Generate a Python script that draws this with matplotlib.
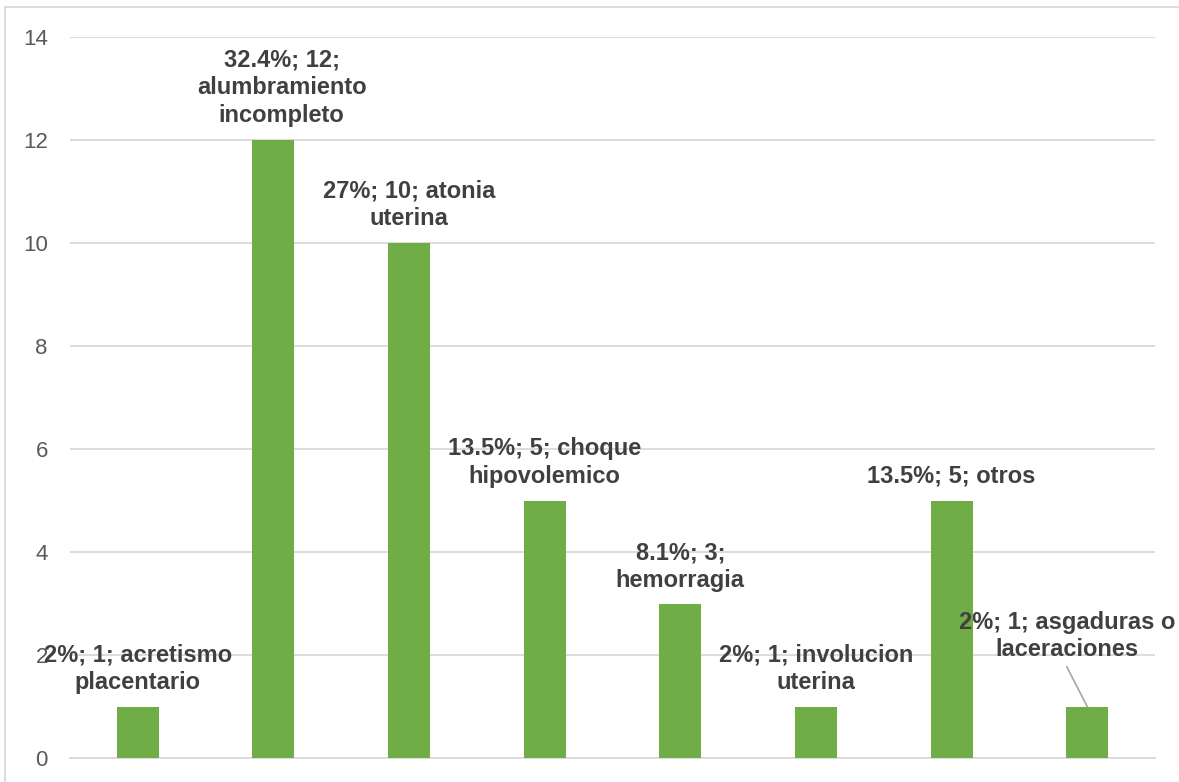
import textwrap
import matplotlib
matplotlib.use("Agg")
import matplotlib.pyplot as plt
from matplotlib.patches import Rectangle

# Causes of postpartum haemorrhage: count and share of cases
categories = [
    "acretismo placentario",
    "alumbramiento incompleto",
    "atonia uterina",
    "choque hipovolemico",
    "hemorragia",
    "involucion uterina",
    "otros",
    "asgaduras o laceraciones",
]
counts = [1, 12, 10, 5, 3, 1, 5, 1]
percents = ["2%", "32.4%", "27%", "13.5%", "8.1%", "2%", "13.5%", "2%"]
y_ticks = [0, 2, 4, 6, 8, 10, 12, 14]

# label placement: (x shift from bar centre, height above bar top) in data units
label_shift = [(0.0, 0.74), (0.06, 1.01), (0.0, 0.74), (0.0, 0.74),
               (0.0, 0.72), (0.0, 0.74), (0.0, 0.47), (-0.15, 1.37)]

BAR_COLOR = "#70AD47"
GRID_COLOR = "#D9D9D9"
TEXT_COLOR = "#404040"
TICK_COLOR = "#595959"

plt.rcParams["font.family"] = ["Liberation Sans", "DejaVu Sans"]

W, H = 1179, 782
fig = plt.figure(figsize=(W / 100, H / 100), dpi=100)
ax = fig.add_axes([70 / W, 1 - 758 / H, (1155 - 70) / W, (758 - 37) / H])

x = list(range(len(categories)))
ax.bar(x, counts, width=0.31, color=BAR_COLOR, zorder=3)

ax.set_xlim(-0.5, len(categories) - 0.5)
ax.set_ylim(0, 14)
ax.set_yticks(y_ticks)
ax.set_yticklabels([str(t) for t in y_ticks])
ax.set_xticks([])
ax.tick_params(axis="y", length=0, pad=16, labelsize=16, labelcolor=TICK_COLOR)
ax.yaxis.grid(True, color=GRID_COLOR, linewidth=1.3, zorder=0)
ax.set_axisbelow(True)
for side in ("top", "right", "left"):
    ax.spines[side].set_visible(False)
ax.spines["bottom"].set_color(GRID_COLOR)
ax.spines["bottom"].set_linewidth(1.3)

for i, (cat, n, pct) in enumerate(zip(categories, counts, percents)):
    dx, dy = label_shift[i]
    text = textwrap.fill(f"{pct}; {n}; {cat}", width=18)
    tx, ty = i + dx, n + dy
    ax.text(tx, ty, text, ha="center", va="center", fontsize=17,
            fontweight="bold", color=TEXT_COLOR, linespacing=1.25, zorder=5)
    if i == len(categories) - 1:
        # leader line from the displaced label down to its bar
        ax.plot([tx, i], [n + 0.77, n], color="#A6A6A6", linewidth=1.2,
                zorder=4, clip_on=False)

# chart frame
fig.patches.append(Rectangle((5 / W, -0.1), 1.2, 1 - 7 / H + 0.1,
                             transform=fig.transFigure, fill=False,
                             edgecolor=GRID_COLOR, linewidth=1.3))

fig.savefig("out.png", dpi=100)
